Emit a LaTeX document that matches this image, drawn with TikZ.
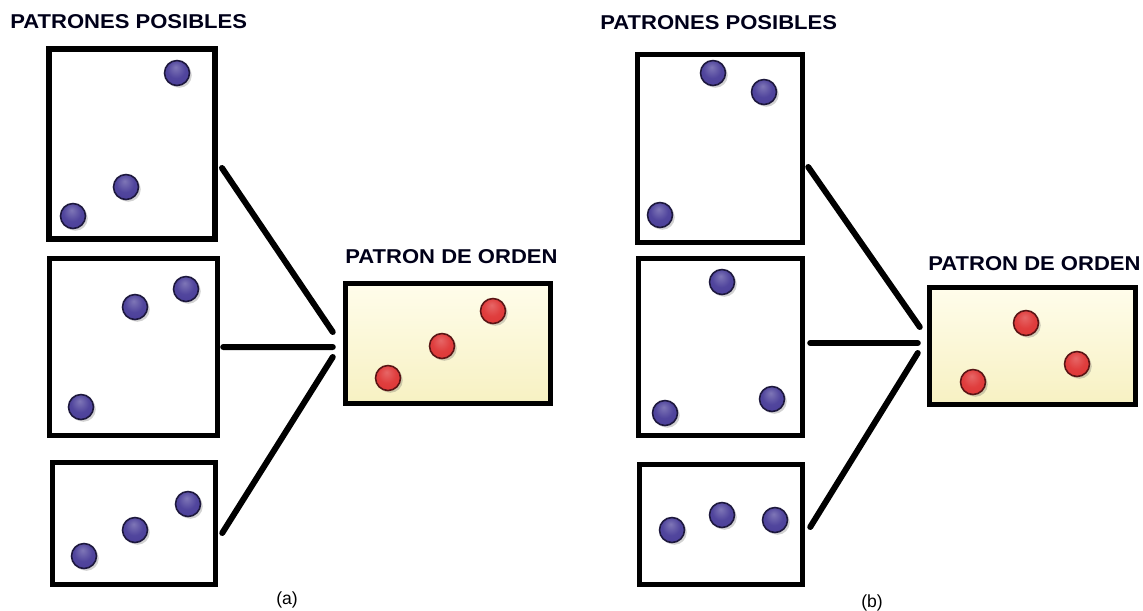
\documentclass[tikz,border=0pt]{standalone}
\usepackage{fontspec}
\setmainfont{Liberation Sans}
\usetikzlibrary{shadows}

\definecolor{bluedot}{HTML}{483C98}
\definecolor{reddot}{HTML}{DE3434}
\definecolor{creamtop}{HTML}{FFFDEB}
\definecolor{creambot}{HTML}{F7F1C2}

% soft highlight a little above the centre of each dot
\pgfdeclareradialshading{blueshade}{\pgfpoint{-3bp}{12bp}}{%
	color(0bp)=(bluedot!70!white); color(18bp)=(bluedot!95!white);
	color(36bp)=(bluedot); color(50bp)=(bluedot!80!black)}
\pgfdeclareradialshading{redshade}{\pgfpoint{-3bp}{12bp}}{%
	color(0bp)=(reddot!75!white); color(18bp)=(reddot!95!white);
	color(36bp)=(reddot); color(50bp)=(reddot!80!black)}

\begin{document}
\begin{tikzpicture}[x=0.02cm,y=-0.02cm]
	\tikzstyle{frame}=[draw,line width=0.11cm,fill=white,inner sep=0pt]
	\tikzstyle{target}=[frame,top color=creamtop,bottom color=creambot]
	\tikzstyle{dot}=[circle,inner sep=0pt,minimum size=0.5cm,line width=0.9pt,
		drop shadow={shadow xshift=1.3pt,shadow yshift=-1.3pt,opacity=0.25,fill=black!70}]
	\tikzstyle{blue dot}=[dot,draw=bluedot!40!black,shading=blueshade]
	\tikzstyle{red dot}=[dot,draw=reddot!40!black,shading=redshade]
	\tikzstyle{link}=[line width=0.12cm,line cap=round]
	\tikzstyle{title}=[inner sep=0pt,font=\bfseries\fontsize{11.4}{13}\selectfont,
		text=black!90!blue,transform shape,xscale=1.1]

	\useasboundingbox (0,0) rectangle (1143,610);

	% (a)
	\node[title,anchor=west] (ta) at (10,21.5) {PATRONES POSIBLES};
	\node[frame,minimum width=3.33cm,minimum height=3.80cm] (a1) at (132,144) {};
	\node[frame,minimum width=3.36cm,minimum height=3.54cm] (a2) at (133.5,347) {};
	\node[frame,minimum width=3.26cm,minimum height=2.44cm] (a3) at (134,523.5) {};
	\node[title,anchor=west] (toa) at (345,257) {PATRON DE ORDEN};
	\node[target,minimum width=4.10cm,minimum height=2.40cm] (oa) at (448,343.5) {};

	\node[blue dot] (a11) at (177,73) {};
	\node[blue dot] (a12) at (126,187) {};
	\node[blue dot] (a13) at (73,216) {};
	\node[blue dot] (a21) at (186,289) {};
	\node[blue dot] (a22) at (135,307) {};
	\node[blue dot] (a23) at (81,407) {};
	\node[blue dot] (a31) at (188,504) {};
	\node[blue dot] (a32) at (135,530) {};
	\node[blue dot] (a33) at (84,556) {};
	\node[red dot] (oa1) at (493,311) {};
	\node[red dot] (oa2) at (442,346) {};
	\node[red dot] (oa3) at (388,378) {};

	\draw[link] ([shift={(4,24)}]a1.east) -- ([shift={(-10,-11.5)}]oa.west);
	\draw[link] ([shift={(3,0)}]a2.east) -- ([shift={(-10,3.5)}]oa.west);
	\draw[link] ([shift={(4,9.5)}]a3.east) -- ([shift={(-10,13.5)}]oa.west);

	\node[font=\fontsize{10}{12}\selectfont] (la) at (287,600) {(a)};

	% (b)
	\node[title,anchor=west] (tb) at (600,23) {PATRONES POSIBLES};
	\node[frame,minimum width=3.30cm,minimum height=3.76cm] (b1) at (720,148.5) {};
	\node[frame,minimum width=3.28cm,minimum height=3.54cm] (b2) at (720.5,347) {};
	\node[frame,minimum width=3.26cm,minimum height=2.40cm] (b3) at (721,524.5) {};
	\node[title,anchor=west] (tob) at (928,264) {PATRON DE ORDEN};
	\node[target,minimum width=4.12cm,minimum height=2.34cm] (ob) at (1032.5,346) {};

	\node[blue dot] (b11) at (713,73) {};
	\node[blue dot] (b12) at (764,92) {};
	\node[blue dot] (b13) at (660,215) {};
	\node[blue dot] (b21) at (722,282) {};
	\node[blue dot] (b22) at (772,399) {};
	\node[blue dot] (b23) at (665,413) {};
	\node[blue dot] (b31) at (672,530) {};
	\node[blue dot] (b32) at (722,515) {};
	\node[blue dot] (b33) at (775,520) {};
	\node[red dot] (ob1) at (1026,323) {};
	\node[red dot] (ob2) at (1077,364) {};
	\node[red dot] (ob3) at (973,382) {};

	\draw[link] ([shift={(3,18.5)}]b1.east) -- ([shift={(-7,-19)}]ob.west);
	\draw[link] ([shift={(5,-4)}]b2.east) -- ([shift={(-9,-3)}]ob.west);
	\draw[link] ([shift={(5,2.5)}]b3.east) -- ([shift={(-9,7)}]ob.west);

	\node[font=\fontsize{10}{12}\selectfont] (lb) at (872,603) {(b)};
\end{tikzpicture}
\end{document}
